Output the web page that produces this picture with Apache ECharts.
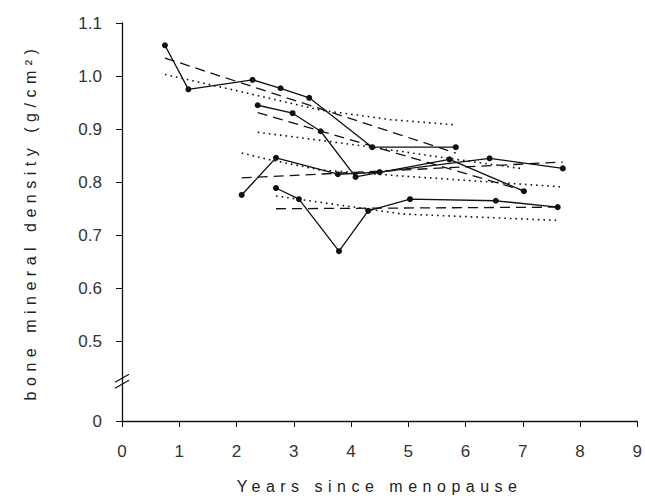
<!DOCTYPE html>
<html>
<head>
<meta charset="utf-8">
<script src="https://cdn.jsdelivr.net/npm/echarts@6/dist/echarts.min.js"></script>
<style>
html, body { margin: 0; padding: 0; background: #fff; }
#main { width: 645px; height: 502px; }
</style>
</head>
<body>
<div id="main"></div>
<script>
// measured values, one woman per letter
const yearsA = [0.75, 1.16, 2.28, 2.77, 3.27, 4.37, 5.83];
const bmdA   = [1.058, 0.975, 0.993, 0.977, 0.959, 0.866, 0.866];
const yearsB = [2.37, 2.98, 3.47, 4.08, 5.72, 7.02];
const bmdB   = [0.945, 0.930, 0.896, 0.810, 0.843, 0.783];
const yearsC = [2.09, 2.69, 3.77, 4.50, 6.42, 7.70];
const bmdC   = [0.776, 0.846, 0.815, 0.819, 0.845, 0.826];
const yearsD = [2.69, 3.09, 3.79, 4.30, 5.03, 6.53, 7.61];
const bmdD   = [0.789, 0.768, 0.670, 0.746, 0.768, 0.765, 0.753];

// linear fits (dashed)
const fitYearsA = [0.75, 5.83],  fitBmdA = [1.034, 0.855];
const fitYearsB = [2.37, 7.02],  fitBmdB = [0.931, 0.784];
const fitYearsC = [2.09, 7.70],  fitBmdC = [0.808, 0.838];
const fitYearsD = [2.69, 7.61],  fitBmdD = [0.750, 0.753];

// model curves (dotted)
const curveYearsA = [0.75, 2.06, 2.90, 3.46, 4.68, 5.83];
const curveBmdA   = [1.003, 0.971, 0.950, 0.936, 0.918, 0.908];
const curveYearsB = [2.37, 3.46, 4.36, 5.83, 7.02];
const curveBmdB   = [0.894, 0.879, 0.866, 0.843, 0.825];
const curveYearsC = [2.09, 2.55, 3.46, 4.85, 7.70];
const curveBmdC   = [0.855, 0.843, 0.823, 0.812, 0.791];
const curveYearsD = [2.69, 3.86, 4.90, 7.61];
const curveBmdD   = [0.774, 0.756, 0.740, 0.728];

const yTickValues = [0.5, 0.6, 0.7, 0.8, 0.9, 1.0, 1.1];
const axisFloor = 0.35; // the "0" below the axis break
const xName = 'Years since menopause';
const yName = 'bone mineral density (g/cm\u00b2)';

const ink = '#111';
const labelFont = "'Liberation Sans', Arial, sans-serif";

function zip(xs, ys) {
  return xs.map((x, i) => [x, ys[i]]);
}

function solid(xs, ys) {
  return {
    type: 'line', data: zip(xs, ys),
    symbol: 'circle', symbolSize: 6, showSymbol: true,
    itemStyle: { color: ink },
    lineStyle: { color: ink, width: 1.3 },
    z: 3
  };
}
function dashed(xs, ys) {
  return {
    type: 'line', data: zip(xs, ys), showSymbol: false, symbol: 'none',
    lineStyle: { color: ink, width: 1.3, type: [10, 6] }
  };
}
function dotted(xs, ys) {
  return {
    type: 'line', data: zip(xs, ys), showSymbol: false, symbol: 'none',
    lineStyle: { color: ink, width: 1.6, type: [1.6, 4] }
  };
}

const chart = echarts.init(document.getElementById('main'), null, { renderer: 'svg' });

const option = {
  animation: false,
  backgroundColor: '#fff',
  grid: { left: 122, right: 7, top: 23, bottom: 81 },
  xAxis: {
    type: 'value', min: 0, max: 9, interval: 1,
    name: xName, nameLocation: 'middle', nameGap: 57,
    nameTextStyle: { color: '#222', fontSize: 16, fontFamily: labelFont },
    axisLine: { show: true, onZero: false, lineStyle: { color: ink, width: 1.3 } },
    axisTick: { show: true, length: 6, lineStyle: { color: ink } },
    axisLabel: { color: '#333', fontSize: 17, fontFamily: labelFont, margin: 22 },
    splitLine: { show: false }
  },
  yAxis: {
    type: 'value', min: axisFloor, max: 1.1,
    name: yName, nameLocation: 'middle', nameGap: 84,
    nameTextStyle: { color: '#222', fontSize: 16, fontFamily: labelFont },
    axisLine: { show: true, onZero: false, lineStyle: { color: ink, width: 1.3 } },
    axisTick: { show: true, length: 6, lineStyle: { color: ink },
      customValues: [axisFloor].concat(yTickValues) },
    axisLabel: { color: '#333', fontSize: 17, fontFamily: labelFont, margin: 20,
      customValues: [axisFloor].concat(yTickValues),
      formatter: v => (Math.abs(v - axisFloor) < 1e-6 ? '0' : v.toFixed(1)) },
    splitLine: { show: false }
  },
  series: [
    dotted(curveYearsA, curveBmdA), dotted(curveYearsB, curveBmdB),
    dotted(curveYearsC, curveBmdC), dotted(curveYearsD, curveBmdD),
    dashed(fitYearsA, fitBmdA), dashed(fitYearsB, fitBmdB),
    dashed(fitYearsC, fitBmdC), dashed(fitYearsD, fitBmdD),
    solid(yearsA, bmdA), solid(yearsB, bmdB),
    solid(yearsC, bmdC), solid(yearsD, bmdD)
  ]
};
chart.setOption(option);

// the "//" break marks on the y axis, placed through the axis scale
const mid = chart.convertToPixel({ gridIndex: 0 }, [0, 0.425]);
const breakMark = dy => ({
  type: 'line',
  shape: { x1: mid[0] - 7, y1: mid[1] + 4 + dy, x2: mid[0] + 7, y2: mid[1] - 4 + dy },
  style: { stroke: ink, lineWidth: 1.3 }
});
chart.setOption({
  graphic: [
    { type: 'rect', shape: { x: mid[0] - 3, y: mid[1] - 3, width: 6, height: 6 },
      style: { fill: '#fff' } },
    breakMark(-3), breakMark(3)
  ]
});

// wide letter spacing of the axis titles
function spaceOut() {
  document.querySelectorAll('#main text').forEach(t => {
    if (t.textContent === xName || t.textContent === yName) {
      t.setAttribute('letter-spacing', '5.5');
    }
  });
}
spaceOut();
chart.on('finished', spaceOut);
</script>
</body>
</html>
